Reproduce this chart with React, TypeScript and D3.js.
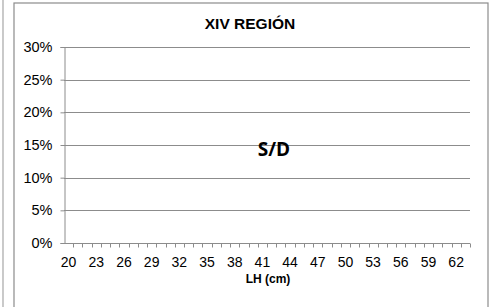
import React, { useRef, useEffect } from 'react';
import * as d3 from 'd3';

// largo (cm) categories, Excel style category axis
const lengths = [20, 21, 22, 23, 24, 25, 26, 27, 28, 29, 30, 31, 32, 33, 34, 35, 36, 37, 38, 39, 40, 41,
    42, 43, 44, 45, 46, 47, 48, 49, 50, 51, 52, 53, 54, 55, 56, 57, 58, 59, 60, 61, 62, 63];
const yTicks = [0, 0.05, 0.1, 0.15, 0.2, 0.25, 0.3];
const xLabels = [20, 23, 26, 29, 32, 35, 38, 41, 44, 47, 50, 53, 56, 59, 62];
// no data for this region
const frequency: number[] = [];

const title = 'XIV REGIÓN';
const xTitle = 'LH (cm)';
const noData = 'S/D';

export default function App() {
    const svg_ref = useRef<SVGSVGElement>(null);
    useEffect(() => draw(svg_ref.current), []);
    return (
        <div style={{ position: 'fixed', left: 0, top: 0 }}>
            <svg ref={svg_ref}></svg>
        </div>
    );
}

function draw(node: SVGSVGElement | null) {
    const W = 498, H = 307;
    const m = { l: 64, r: 28, t: 47, b: 64 };
    const font = 'Liberation Sans, Arial, sans-serif';
    const grid = '#8c8c8c';

    const svg = d3.select(node).attr('width', W).attr('height', H);
    svg.selectAll('*').remove();

    // neighbouring chart edge + chart area frame
    svg.append('line').attr('x1', 3).attr('x2', 3).attr('y1', 0).attr('y2', H)
        .attr('stroke', '#a6a6a6').attr('stroke-width', 1.2);
    svg.append('rect').attr('x', 14).attr('y', 3).attr('width', 474).attr('height', H + 10)
        .attr('fill', 'white').attr('stroke', '#8c8c8c').attr('stroke-width', 1.2);

    const x = d3.scaleBand<number>().domain(lengths).range([m.l, W - m.r]);
    const y = d3.scaleLinear().domain([0, 0.3]).range([H - m.b, m.t]);

    // gridlines
    svg.append('g').selectAll('line').data(yTicks.filter(d => d > 0)).join('line')
        .attr('x1', m.l).attr('x2', W - m.r)
        .attr('y1', d => Math.round(y(d)) + 0.5).attr('y2', d => Math.round(y(d)) + 0.5)
        .attr('stroke', grid).attr('stroke-width', 1);

    const yAxis = d3.axisLeft(y).tickValues(yTicks).tickSize(4).tickFormat(d3.format('.0%'));
    const gy = svg.append('g').attr('transform', `translate(${m.l + 0.5},0)`).call(yAxis);
    gy.select('.domain').attr('stroke', grid);
    gy.selectAll('.tick line').attr('stroke', grid);
    gy.selectAll('.tick text').attr('font-family', font).attr('font-size', 14.5)
        .attr('fill', '#000').attr('x', -12);

    // x axis: ticks between categories, labels every third
    const y0 = Math.round(y(0)) + 0.5;
    svg.append('line').attr('x1', m.l).attr('x2', W - m.r).attr('y1', y0).attr('y2', y0).attr('stroke', grid);
    const edges = lengths.map(d => x(d) as number).concat([W - m.r]);
    svg.append('g').selectAll('line').data(edges.slice(1)).join('line')
        .attr('x1', d => Math.round(d) + 0.5).attr('x2', d => Math.round(d) + 0.5)
        .attr('y1', y0).attr('y2', y0 + 4).attr('stroke', grid);
    svg.append('g').selectAll('text').data(xLabels).join('text')
        .attr('x', d => (x(d) as number) + x.bandwidth() / 2)
        .attr('y', 267)
        .attr('text-anchor', 'middle')
        .attr('font-family', font).attr('font-size', 14)
        .text(d => d);

    // bars (none available)
    svg.append('g').selectAll('rect').data(frequency).join('rect')
        .attr('x', (d, i) => x(lengths[i]) as number)
        .attr('y', d => y(d)).attr('width', x.bandwidth())
        .attr('height', d => y(0) - y(d)).attr('fill', '#4f81bd');

    svg.append('text').attr('x', 250).attr('y', 29).attr('text-anchor', 'middle')
        .attr('font-family', font).attr('font-size', 15.5).attr('font-weight', 'bold').text(title);
    svg.append('text').attr('x', 268).attr('y', 283).attr('text-anchor', 'middle')
        .attr('font-family', font).attr('font-size', 12).attr('font-weight', 'bold').text(xTitle);
    svg.append('text').attr('x', 274).attr('y', 156).attr('text-anchor', 'middle')
        .attr('font-family', 'Open Sans, Noto Sans, sans-serif').attr('font-size', 19).attr('font-weight', 'bold')
        .text(noData);
}
